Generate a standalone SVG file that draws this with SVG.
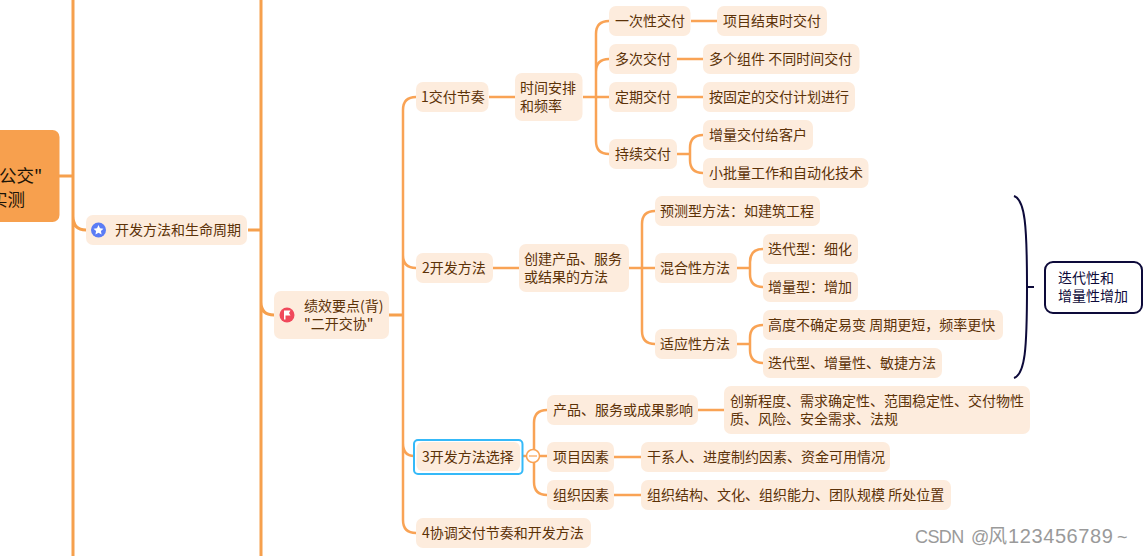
<svg xmlns="http://www.w3.org/2000/svg" width="1146" height="556" viewBox="0 0 1146 556">
<style>
text{font-family:"Noto Sans CJK SC","Noto Sans",sans-serif;font-size:14px;fill:#5c3208}
.n{fill:#fdecdd}
.l{fill:none;stroke:#f9a355;stroke-width:2.5}
.m{fill:none;stroke:#f6a04d;stroke-width:3}
.d{fill:none;stroke:#0d0a3a;stroke-width:2}
.w{fill:#9a9a9a;font-size:18px;font-family:"Liberation Sans","Noto Sans CJK SC",sans-serif}
</style>
<g id="connectors">
<path class="m" d="M73 0V556M59 176H73M73 216Q73 230 86 230M248 230H261M261 0V556M261 302Q261 315 274 315M389 315H403"/>
<path class="l" d="M403 110Q403 97 416 97M403 255Q403 268 416 268M403 110V520Q403 533 416 533M403 443Q403 456 414 456"/>
<path class="l" d="M489 97H515M583 97H609M596 34Q596 21 609 21M596 72Q596 59 609 59M596 34V141Q596 154 609 154"/>
<path class="l" d="M691 21H717M677 59H703M677 97H703M677 154H690M690 148Q690 135 703 135M690 148V160Q690 173 703 173"/>
<path class="l" d="M493 268H519M629 268H655M642 224Q642 211 655 211M642 224V331Q642 344 655 344"/>
<path class="l" d="M737 268H750M750 262Q750 249 763 249M750 262V274Q750 287 763 287M737 344H750M750 338Q750 325 763 325M750 338V350Q750 363 763 363"/>
<path class="l" d="M523 456H547M534 423Q534 410 547 410M534 423V482Q534 495 547 495"/>
<path class="l" d="M698 410H724M614 457H641M614 495H641"/>
<circle cx="533" cy="456" r="6.500" fill="#fff" stroke="#f9a355" stroke-width="1.500"/>
<path d="M529 456H537" stroke="#f9a355" stroke-width="1.200"/>
<path class="d" d="M1014 196C1025 200 1027 225 1027 287C1027 350 1025 374 1014 378M1027 287H1034"/>
</g>
<g id="root"><rect x="-40" y="130" width="99.500" height="92" rx="7" fill="#f7a04e"/>
<text x="-1" y="182" style="font-size:17.500px;fill:#1c1408">公交"</text><text x="-10" y="206" style="font-size:17.500px;fill:#1c1408">实测</text></g>
<g id="n-life"><rect class="n" x="86" y="215" width="161" height="30" rx="7"/>
<circle cx="98.500" cy="230" r="7.500" fill="#5b7cf5"/><path d="M98.500 225l1.500 3.300 3.500.4-2.600 2.400.7 3.500-3.100-1.800-3.100 1.800.7-3.500-2.600-2.400 3.500-.4z" fill="#fff"/>
<text x="115" y="235">开发方法和生命周期</text></g>
<g id="n-perf"><rect class="n" x="274" y="291" width="115" height="48" rx="7"/>
<circle cx="287" cy="315" r="7.500" fill="#f0485b"/><path d="M284 310.500h6.500l-1.500 2.500 1.500 2.500h-5v4h-1.500z" fill="#fff"/>
<text x="304" y="311">绩效要点(背)</text><text x="304" y="329">"二开交协"</text></g>
<g id="n1"><rect class="n" x="416" y="82" width="72.500" height="30" rx="7"/><text x="421" y="102">1交付节奏</text></g>
<g id="n1a"><rect class="n" x="515" y="73" width="67.500" height="48" rx="7"/><text x="520" y="93">时间安排</text><text x="520" y="111">和频率</text></g>
<g id="n1a1"><rect class="n" x="609" y="6" width="81.500" height="30" rx="7"/><text x="615" y="26">一次性交付</text></g>
<g id="n1a1a"><rect class="n" x="717" y="6" width="110" height="30" rx="7"/><text x="723" y="26">项目结束时交付</text></g>
<g id="n1a2"><rect class="n" x="609" y="44" width="68" height="30" rx="7"/><text x="615" y="64">多次交付</text></g>
<g id="n1a2a"><rect class="n" x="703" y="44" width="156.500" height="30" rx="7"/><text x="709" y="64">多个组件 不同时间交付</text></g>
<g id="n1a3"><rect class="n" x="609" y="82" width="68" height="30" rx="7"/><text x="615" y="102">定期交付</text></g>
<g id="n1a3a"><rect class="n" x="703" y="82" width="152" height="30" rx="7"/><text x="709" y="102">按固定的交付计划进行</text></g>
<g id="n1a4"><rect class="n" x="609" y="139" width="68" height="30" rx="7"/><text x="615" y="159">持续交付</text></g>
<g id="n1a4a"><rect class="n" x="703" y="120" width="110" height="30" rx="7"/><text x="709" y="140">增量交付给客户</text></g>
<g id="n1a4b"><rect class="n" x="703" y="158" width="165.500" height="30" rx="7"/><text x="709" y="178">小批量工作和自动化技术</text></g>
<g id="n2"><rect class="n" x="416" y="253" width="77" height="30" rx="7"/><text x="422" y="273">2开发方法</text></g>
<g id="n2a"><rect class="n" x="519" y="244" width="110" height="48" rx="7"/><text x="524" y="264">创建产品、服务</text><text x="524" y="282">或结果的方法</text></g>
<g id="n2a1"><rect class="n" x="655" y="196" width="165" height="30" rx="7"/><text x="660" y="216">预测型方法&#xFF1A;如建筑工程</text></g>
<g id="n2a2"><rect class="n" x="655" y="253" width="82" height="30" rx="7"/><text x="660" y="273">混合性方法</text></g>
<g id="n2a2a"><rect class="n" x="763" y="234" width="95" height="30" rx="7"/><text x="768" y="254">迭代型&#xFF1A;细化</text></g>
<g id="n2a2b"><rect class="n" x="763" y="272" width="95" height="30" rx="7"/><text x="768" y="292">增量型&#xFF1A;增加</text></g>
<g id="n2a3"><rect class="n" x="655" y="329" width="82" height="30" rx="7"/><text x="660" y="349">适应性方法</text></g>
<g id="n2a3a"><rect class="n" x="763" y="310" width="240" height="30" rx="7"/><text x="768" y="330">高度不确定易变 周期更短&#xFF0C;频率更快</text></g>
<g id="n2a3b"><rect class="n" x="763" y="348" width="179" height="30" rx="7"/><text x="768" y="368">迭代型、增量性、敏捷方法</text></g>
<g id="n3"><rect x="414" y="440" width="108.500" height="34" rx="4" fill="#fff" stroke="#35b9f8" stroke-width="2"/><rect class="n" x="416.500" y="442" width="103.500" height="29" rx="6"/><text x="422" y="462">3开发方法选择</text></g>
<g id="n3a"><rect class="n" x="547" y="395" width="151" height="30" rx="7"/><text x="553" y="415">产品、服务或成果影响</text></g>
<g id="n3a1"><rect class="n" x="724" y="386" width="306" height="48" rx="7"/><text x="730" y="406">创新程度、需求确定性、范围稳定性、交付物性</text><text x="730" y="424">质、风险、安全需求、法规</text></g>
<g id="n3b"><rect class="n" x="547" y="442" width="67" height="30" rx="7"/><text x="553" y="462">项目因素</text></g>
<g id="n3b1"><rect class="n" x="641" y="442" width="249" height="30" rx="7"/><text x="647" y="462">干系人、进度制约因素、资金可用情况</text></g>
<g id="n3c"><rect class="n" x="547" y="480" width="67" height="30" rx="7"/><text x="553" y="500">组织因素</text></g>
<g id="n3c1"><rect class="n" x="641" y="480" width="310" height="30" rx="7"/><text x="647" y="500">组织结构、文化、组织能力、团队规模 所处位置</text></g>
<g id="n4"><rect class="n" x="416" y="518" width="175" height="30" rx="7"/><text x="422" y="538">4协调交付节奏和开发方法</text></g>
<g id="summary"><rect x="1045" y="262" width="97" height="51" rx="8" fill="#fff" stroke="#0d0a3a" stroke-width="2"/>
<text x="1058" y="283" style="fill:#0d0a3a">迭代性和</text><text x="1058" y="301" style="fill:#0d0a3a">增量性增加</text></g>
<text id="watermark" class="w" y="543"><tspan x="915" letter-spacing="-.6">CSDN</tspan> <tspan x="971">@</tspan><tspan x="988" style="font-size:19px">风</tspan><tspan x="1008" style="font-size:20px" letter-spacing=".6">123456789</tspan><tspan x="1117">~</tspan></text>
</svg>
